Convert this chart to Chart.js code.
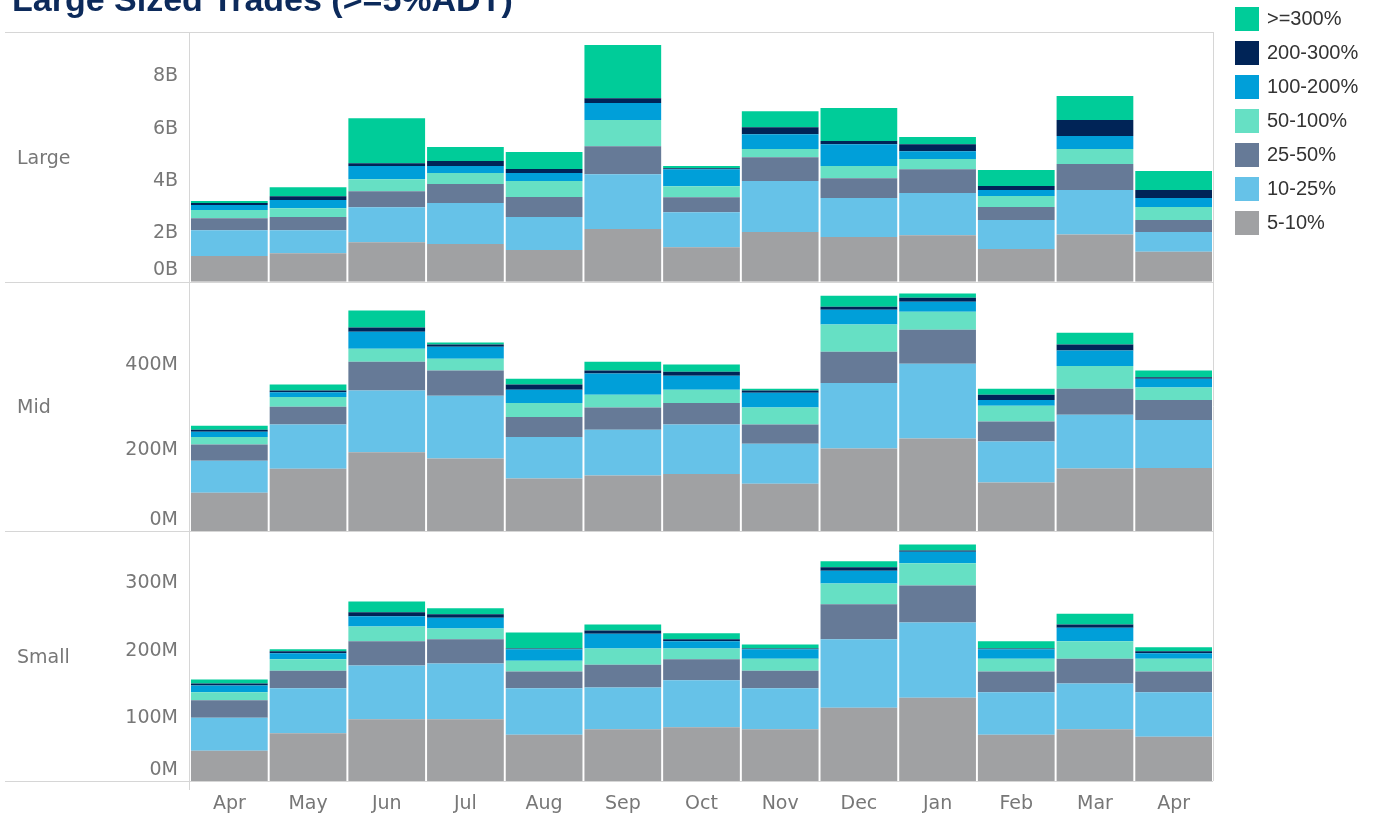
<!DOCTYPE html>
<html>
<head>
<meta charset="utf-8">
<title>Large Sized Trades</title>
<script src="https://cdn.jsdelivr.net/npm/chart.js@4.4.1/dist/chart.umd.min.js"></script>
<style>
    html, body { margin: 0; padding: 0; background: #ffffff; }
    #wrap { width: 1373px; height: 817px; }
</style>
</head>
<body>
<div id="wrap"><canvas id="trades" width="1373" height="817"></canvas></div>
<script>
// ------------------------------------------------------------
// Data
// ------------------------------------------------------------
const months = ["Apr", "May", "Jun", "Jul", "Aug", "Sep", "Oct", "Nov", "Dec", "Jan", "Feb", "Mar", "Apr"];

// stacking order: bottom to top
const buckets = ["5-10%", "10-25%", "25-50%", "50-100%", "100-200%", "200-300%", ">=300%"];

// Large caps, in billions
const large_5_10    = [0.98, 1.09, 1.51, 1.44, 1.21, 2.01, 1.32, 1.90, 1.71, 1.78, 1.25, 1.80, 1.14];
const large_10_25   = [0.99, 0.88, 1.34, 1.57, 1.26, 2.10, 1.34, 1.95, 1.49, 1.61, 1.11, 1.71, 0.76];
const large_25_50   = [0.46, 0.50, 0.61, 0.73, 0.77, 1.07, 0.57, 0.91, 0.76, 0.91, 0.50, 0.99, 0.46];
const large_50_100  = [0.31, 0.34, 0.46, 0.42, 0.61, 1.00, 0.42, 0.31, 0.46, 0.39, 0.42, 0.57, 0.50];
const large_100_200 = [0.19, 0.31, 0.50, 0.26, 0.31, 0.65, 0.65, 0.57, 0.84, 0.30, 0.23, 0.50, 0.34];
const large_200_300 = [0.08, 0.15, 0.11, 0.20, 0.15, 0.19, 0.04, 0.27, 0.12, 0.27, 0.15, 0.61, 0.31];
const large_300     = [0.08, 0.34, 1.72, 0.53, 0.65, 2.03, 0.08, 0.61, 1.26, 0.27, 0.61, 0.92, 0.72];

// Mid caps, in millions
const mid_5_10    = [91, 147, 186, 171, 124, 131, 135, 112, 195, 218, 115, 148, 149];
const mid_10_25   = [75, 104, 145, 148, 98, 108, 116, 94, 154, 176, 96, 126, 113];
const mid_25_50   = [38, 42, 68, 59, 47, 52, 51, 45, 73, 80, 47, 61, 47];
const mid_50_100  = [18, 23, 30, 28, 33, 30, 31, 40, 64, 42, 37, 54, 29];
const mid_100_200 = [12, 11, 40, 28, 31, 50, 33, 35, 35, 24, 14, 36, 21];
const mid_200_300 = [5, 4, 10, 5, 12, 7, 9, 5, 7, 9, 12, 14, 3];
const mid_300     = [9, 14, 40, 5, 14, 21, 17, 4, 26, 10, 14, 28, 16];

// Small caps, in millions
const small_5_10    = [45, 71, 92, 92, 69, 77, 80, 77, 109, 124, 69, 77, 66];
const small_10_25   = [49, 67, 80, 83, 69, 62, 70, 61, 102, 112, 63, 68, 66];
const small_25_50   = [26, 26, 36, 36, 25, 34, 31, 26, 52, 55, 31, 37, 31];
const small_50_100  = [12, 17, 22, 16, 16, 24, 16, 18, 31, 33, 19, 26, 19];
const small_100_200 = [10, 9, 15, 16, 17, 22, 11, 14, 19, 17, 14, 20, 8];
const small_200_300 = [3, 3, 6, 5, 1, 5, 3, 1, 5, 2, 1, 5, 3];
const small_300     = [6, 3, 16, 9, 24, 9, 9, 6, 9, 9, 11, 16, 6];

// axis ticks per row
const largeTicks = [0, 2, 4, 6, 8];
const midTicks = [0, 200, 400];
const smallTicks = [0, 100, 200, 300];

// ------------------------------------------------------------
// Styling
// ------------------------------------------------------------
const bucketColors = ["#A0A1A3", "#66C2E8", "#667A97", "#66E0C4", "#009FD9", "#002457", "#00CC99"];
const tickGray = "#777777";
const lineGray = "#d6d6d6";
const axisFont = { family: "'DejaVu Sans', sans-serif", size: 19 };

const rows = [
    { id: "yLarge", name: "Large", unit: "B", max: 9.55, ticks: largeTicks,
      series: [large_5_10, large_10_25, large_25_50, large_50_100, large_100_200, large_200_300, large_300] },
    { id: "yMid", name: "Mid", unit: "M", max: 587, ticks: midTicks,
      series: [mid_5_10, mid_10_25, mid_25_50, mid_50_100, mid_100_200, mid_200_300, mid_300] },
    { id: "ySmall", name: "Small", unit: "M", max: 371.5, ticks: smallTicks,
      series: [small_5_10, small_10_25, small_25_50, small_50_100, small_100_200, small_200_300, small_300] }
];

const datasets = [];
rows.forEach(row => {
    row.series.forEach((values, i) => {
        datasets.push({
            label: buckets[i],
            data: values,
            yAxisID: row.id,
            stack: "all",
            backgroundColor: bucketColors[i],
            borderWidth: 0
        });
    });
});

function rowScale(row) {
    return {
        type: "linear",
        position: "left",
        stack: "rows",
        stackWeight: 1,
        stacked: true,
        min: 0,
        max: row.max,
        grid: { display: false, drawTicks: false },
        border: { display: false },
        afterBuildTicks: scale => {
            scale.ticks = row.ticks.map(v => ({ value: v }));
        },
        afterFit: scale => {
            scale.width = 190;
            // labels never push the plot area around
            scale.paddingTop = 0;
            scale.paddingBottom = 0;
        },
        ticks: {
            autoSkip: false,
            padding: 12,
            labelOffset: 4,
            color: tickGray,
            font: { ...axisFont, lineHeight: 1.6 },
            // keep the zero label lifted inside its own row
            callback: v => v === 0 ? [v + row.unit, ""] : v + row.unit
        }
    };
}

// ------------------------------------------------------------
// Frame: title, row headers, panel rules and legend
// ------------------------------------------------------------
const panelFrame = {
    id: "panelFrame",
    afterDraw(chart) {
        const ctx = chart.ctx;
        const area = chart.chartArea;
        ctx.save();

        // title (partly scrolled off the top)
        ctx.fillStyle = "#0c2a5b";
        ctx.font = "bold 34px 'Liberation Sans', Arial, sans-serif";
        ctx.textBaseline = "alphabetic";
        ctx.textAlign = "left";
        ctx.fillText("Large Sized Trades (>=5%ADT)", 12, 11);

        // row headers
        ctx.fillStyle = tickGray;
        ctx.font = "19px 'DejaVu Sans', sans-serif";
        ctx.textBaseline = "middle";
        rows.forEach(row => {
            const s = chart.scales[row.id];
            ctx.fillText(row.name, 17, (s.top + s.bottom) / 2 + 2);
        });

        // rules between rows
        ctx.strokeStyle = lineGray;
        ctx.lineWidth = 1;
        ctx.beginPath();
        const edges = [area.top];
        rows.forEach(row => edges.push(chart.scales[row.id].bottom));
        edges.forEach(y => {
            const yy = Math.round(y) + 0.5;
            ctx.moveTo(5, yy);
            ctx.lineTo(area.right, yy);
        });
        ctx.moveTo(Math.round(area.left) - 0.5, area.top);
        ctx.lineTo(Math.round(area.left) - 0.5, area.bottom + 9);
        ctx.moveTo(Math.round(area.right) + 0.5, area.top);
        ctx.lineTo(Math.round(area.right) + 0.5, area.bottom);
        ctx.stroke();

        // legend, top bucket first
        ctx.font = "20px 'Liberation Sans', Arial, sans-serif";
        ctx.textBaseline = "middle";
        for (let i = buckets.length - 1, k = 0; i >= 0; i--, k++) {
            const y = 7 + k * 34;
            ctx.fillStyle = bucketColors[i];
            ctx.fillRect(1235, y, 24, 24);
            ctx.fillStyle = "#333333";
            ctx.fillText(buckets[i], 1267, y + 12.5);
        }
        ctx.restore();
    }
};

const rowScales = {};
// the last stacked scale ends up on top, so add Small first
rows.slice().reverse().forEach(row => { rowScales[row.id] = rowScale(row); });

new Chart(document.getElementById("trades").getContext("2d"), {
    type: "bar",
    data: { labels: months, datasets },
    options: {
        responsive: false,
        animation: false,
        devicePixelRatio: 1,
        layout: { padding: { top: 32, right: 160, bottom: 0, left: 0 } },
        plugins: {
            legend: { display: false },
            tooltip: { enabled: false }
        },
        datasets: {
            bar: { barPercentage: 0.975, categoryPercentage: 1 }
        },
        scales: {
            x: {
                stacked: true,
                grid: { display: false, drawTicks: false },
                border: { display: false },
                afterFit: scale => { scale.height = 36; },
                ticks: { color: tickGray, font: axisFont, padding: 12, maxRotation: 0, autoSkip: false }
            },
            ...rowScales
        }
    },
    plugins: [panelFrame]
});
</script>
</body>
</html>
